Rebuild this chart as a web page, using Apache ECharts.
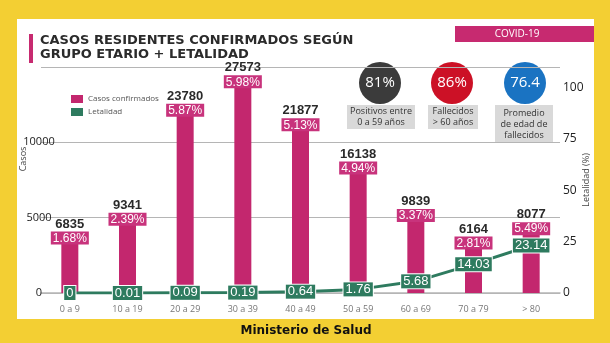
<!DOCTYPE html>
<html><head><meta charset="utf-8">
<script src="https://cdn.jsdelivr.net/npm/echarts@6/dist/echarts.min.js"></script>
<style>html,body{margin:0;padding:0;background:#f3cf33}#c{width:610px;height:343px}</style>
</head><body><div id="c"></div>
<script>
const categories = ['0 a 9','10 a 19','20 a 29','30 a 39','40 a 49','50 a 59','60 a 69','70 a 79','> 80'];
const casos = [6835, 9341, 23780, 27573, 21877, 16138, 9839, 6164, 8077];
const porcentajes = ['1.68%','2.39%','5.87%','5.98%','5.13%','4.94%','3.37%','2.81%','5.49%'];
const letalidad = [0, 0.01, 0.09, 0.19, 0.64, 1.76, 5.68, 14.03, 23.14];
const leftTickLabels = ['0','5000','10000',''];
const rightTicks = [0,25,50,75,100];

const PINK = '#c3276e', GREEN = '#2e7b5f';
const chart = echarts.init(document.getElementById('c'), null, {renderer:'canvas'});
chart.setOption({
  backgroundColor: '#f3cf33',
  animation: false,
  grid: {left: 41, right: 50, top: 67, bottom: 50},
  legend: {
    orient: 'vertical', left: 66, top: 90, icon: 'rect',
    itemWidth: 12, itemHeight: 8, itemGap: 5,
    textStyle: {fontSize: 8, color: '#555', fontFamily: 'Open Sans'},
    data: ['Casos confirmados','Letalidad']
  },
  xAxis: {
    type: 'category', data: categories,
    axisLine: {lineStyle: {color: '#b5b5b5', width: 1.5}},
    axisTick: {show: false},
    axisLabel: {color: '#777', fontSize: 9, margin: 12, fontFamily: 'Open Sans'}
  },
  yAxis: [{
    type: 'value', min: 0, max: 30000, interval: 10000,
    name: 'Casos', nameLocation: 'middle', nameGap: 13, nameMoveOverlap: false,
    nameTextStyle: {fontSize: 9, color: '#444', fontFamily: 'Open Sans', padding: [0,0,0,42]},
    axisLine: {show: false}, axisTick: {show: false},
    splitLine: {lineStyle: {color: '#b5b5b5', width: 1.2}},
    axisLabel: {align: 'center', margin: 2, color: '#222', fontSize: 11, fontFamily: 'Open Sans',
      formatter: v => leftTickLabels[Math.round(v/10000)] || ''}
  }, {
    type: 'value', min: 0, max: 110, interval: 25,
    name: 'Letalidad (%)', nameLocation: 'middle', nameGap: 22, nameMoveOverlap: false,
    nameTextStyle: {fontSize: 9, color: '#444', fontFamily: 'Open Sans'},
    axisLine: {show: false}, axisTick: {show: false}, splitLine: {show: false},
    axisLabel: {align: 'left', margin: 3, color: '#222', fontSize: 12, fontFamily: 'Open Sans',
      formatter: v => rightTicks.indexOf(v) >= 0 ? String(v) : ''}
  }],
  series: [{
    name: 'Casos confirmados', type: 'bar', yAxisIndex: 0, data: casos,
    barWidth: 17, itemStyle: {color: PINK}, z: 2,
    label: {
      show: true, position: 'top', distance: -3,
      formatter: p => '{v|' + casos[p.dataIndex] + '}\n{p|' + porcentajes[p.dataIndex] + '}',
      rich: {
        v: {fontSize: 13, fontWeight: 'bold', color: '#2a2a2a', fontFamily: 'Liberation Sans', lineHeight: 15, align: 'center'},
        p: {fontSize: 12, color: '#fff', backgroundColor: '#c8337c', padding: [1,2,0,2], fontFamily: 'Liberation Sans', lineHeight: 13, align: 'center'}
      }
    }
  }, {
    name: 'Letalidad', type: 'line', yAxisIndex: 1, data: letalidad,
    symbol: 'circle', symbolSize: 2, z: 3,
    itemStyle: {color: GREEN}, lineStyle: {color: GREEN, width: 3},
    label: {
      show: true, position: 'inside', formatter: '{c}',
      color: '#fff', fontSize: 13, fontFamily: 'Liberation Sans',
      backgroundColor: GREEN, borderColor: '#fff', borderWidth: 1, padding: [1,2,0,2]
    }
  }],
  graphic: [
    {type: 'rect', z: -10, silent: true, shape: {x: 17, y: 19, width: 577, height: 300}, style: {fill: '#ffffff'}},
    {type: 'rect', shape: {x: 455, y: 26, width: 139, height: 16}, style: {fill: '#c72a70'}},
    {type: 'text', x: 517, y: 34, style: {text: 'COVID-19', fill: '#fff', font: '10px "Open Sans"', textAlign: 'center', textVerticalAlign: 'middle'}},
    {type: 'rect', shape: {x: 29, y: 34, width: 4, height: 29}, style: {fill: '#c72a70'}},
    {type: 'text', x: 40, y: 34, style: {text: 'CASOS RESIDENTES CONFIRMADOS SEGÚN\nGRUPO ETARIO + LETALIDAD', fill: '#2b2b2b', font: 'bold 13px "DejaVu Sans"', lineHeight: 14}},
    {type: 'circle', shape: {cx: 380, cy: 83, r: 21}, style: {fill: '#3b3b3b'}},
    {type: 'text', x: 380, y: 83, style: {text: '81%', fill: '#fff', font: '15px "Open Sans"', textAlign: 'center', textVerticalAlign: 'middle'}},
    {type: 'circle', shape: {cx: 452, cy: 83, r: 21}, style: {fill: '#cc1126'}},
    {type: 'text', x: 452, y: 83, style: {text: '86%', fill: '#fff', font: '15px "Open Sans"', textAlign: 'center', textVerticalAlign: 'middle'}},
    {type: 'circle', shape: {cx: 525, cy: 83, r: 21}, style: {fill: '#1a73c2'}},
    {type: 'text', x: 525, y: 83, style: {text: '76.4', fill: '#fff', font: '15px "Open Sans"', textAlign: 'center', textVerticalAlign: 'middle'}},
    {type: 'rect', shape: {x: 347, y: 105, width: 68, height: 24}, style: {fill: '#d9d9d9'}},
    {type: 'text', x: 381, y: 117, style: {text: 'Positivos entre\n0 a 59 años', fill: '#333', font: '9px "Open Sans"', lineHeight: 11, textAlign: 'center', textVerticalAlign: 'middle'}},
    {type: 'rect', shape: {x: 428, y: 105, width: 50, height: 24}, style: {fill: '#d9d9d9'}},
    {type: 'text', x: 453, y: 117, style: {text: 'Fallecidos\n> 60 años', fill: '#333', font: '9px "Open Sans"', lineHeight: 11, textAlign: 'center', textVerticalAlign: 'middle'}},
    {type: 'rect', shape: {x: 495, y: 105, width: 58, height: 38}, style: {fill: '#d9d9d9'}},
    {type: 'text', x: 524, y: 124, style: {text: 'Promedio\nde edad de\nfallecidos', fill: '#333', font: '9px "Open Sans"', lineHeight: 11, textAlign: 'center', textVerticalAlign: 'middle'}},
    {type: 'text', x: 306, y: 331, style: {text: 'Ministerio de Salud', fill: '#111', font: 'bold 12px "DejaVu Sans"', textAlign: 'center', textVerticalAlign: 'middle'}}
  ]
});
</script></body></html>
